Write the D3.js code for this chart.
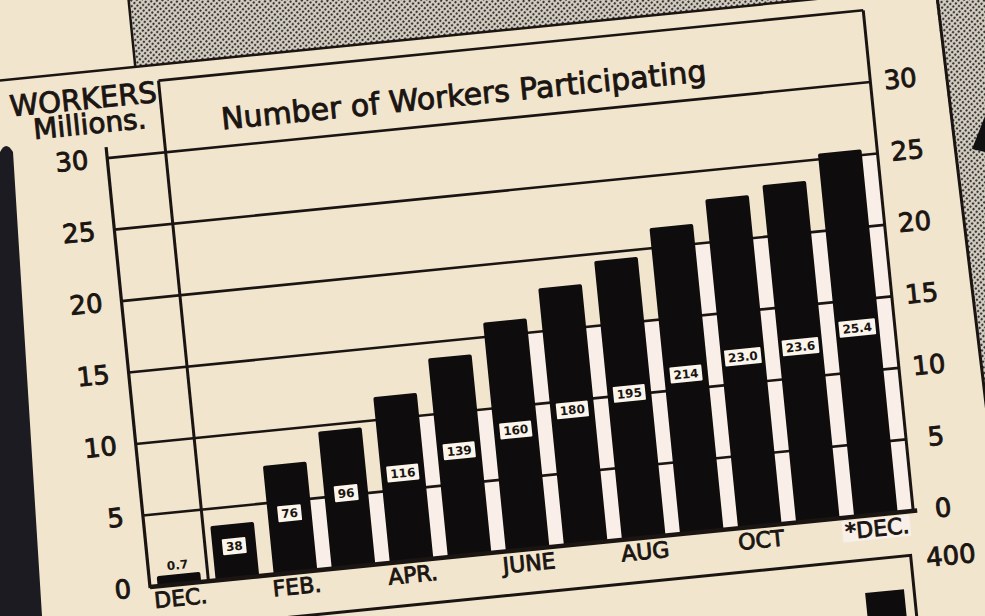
<!DOCTYPE html>
<html>
<head>
<meta charset="utf-8">
<script src="https://cdn.jsdelivr.net/npm/d3@7"></script>
<style>
  body { margin: 0; background: #f2e5cd; }
  svg { display: block; }
  text { font-family: "DejaVu Sans", sans-serif; fill: #1a1512; }
  .big { stroke: #1a1512; stroke-width: 0.9px; }
</style>
</head>
<body>
<div id="chart"></div>
<script>
// months along the bottom (Dec to Dec)
var months = ["DEC", "JAN", "FEB", "MAR", "APR", "MAY", "JUNE", "JULY", "AUG", "SEPT", "OCT", "NOV", "*DEC"];
// workers participating, millions
var workers = [0.7, 3.8, 7.6, 9.6, 11.6, 13.9, 16.0, 18.0, 19.5, 21.4, 23.0, 23.6, 25.4];
// labels as they are printed on the bars
var barLabels = ["0.7", "38", "76", "96", "116", "139", "160", "180", "195", "214", "23.0", "23.6", "25.4"];
// only every other month gets a label
var tickMonths = ["DEC", "FEB", "APR", "JUNE", "AUG", "OCT", "*DEC"];
var tickLabels = ["DEC.", "FEB.", "APR.", "JUNE", "AUG", "OCT", "*DEC."];
var yTicks = [0, 5, 10, 15, 20, 25, 30];

var width = 985, height = 616;
var ink = "#1a1512";

var svg = d3.select("#chart").append("svg")
    .attr("width", width)
    .attr("height", height);

// halftone dots for the page behind
var defs = svg.append("defs");
var pat = defs.append("pattern")
    .attr("id", "dots")
    .attr("width", 4).attr("height", 4)
    .attr("patternUnits", "userSpaceOnUse")
    .attr("patternTransform", "rotate(45)");
pat.append("rect").attr("width", 4).attr("height", 4).attr("fill", "#d6d0c4");
pat.append("circle").attr("cx", 2).attr("cy", 2).attr("r", 1.2).attr("fill", "#34322f");

svg.append("rect").attr("width", width).attr("height", height).attr("fill", "#f2e5cd");

// the clipping is photographed a little tilted
var g = svg.append("g")
    .attr("transform", "translate(150,587) rotate(-5.7)");

// page around the clipping
g.append("path")
    .attr("d", "M37,-800 L37,-519 L840,-519 L852,0 L866,200 L1200,200 L1200,-800 Z")
    .attr("fill", "url(#dots)");
g.append("line").attr("x1", -220).attr("x2", 841).attr("y1", -519).attr("y2", -519)
    .attr("stroke", ink).attr("stroke-width", 2.5);
g.append("line").attr("x1", 37).attr("x2", 37).attr("y1", -800).attr("y2", -519)
    .attr("stroke", ink).attr("stroke-width", 2.5);
g.append("path").attr("d", "M836,-800 L852,0 L866,200")
    .attr("fill", "none").attr("stroke", ink).attr("stroke-width", 3);

var W = 767, H = 431;
var x = d3.scaleBand().domain(months).range([0, W])
    .paddingInner(0.25).paddingOuter(0.2).align(0.33);
var y = d3.scaleLinear().domain([0, 30]).range([0, -H]);
var bw = x.bandwidth(), step = x.step();
var sepX = x("JAN") - (step - bw) / 2;

// pale strips between the bars, up to the last full grid row
g.selectAll(".strip")
    .data(months)
    .enter().append("rect")
    .attr("class", "strip")
    .attr("x", function (d) { return x(d) + bw; })
    .attr("width", function (d) { return Math.min(step - bw, W - x(d) - bw); })
    .attr("y", function (d, i) { return y(Math.floor(workers[i] / 5) * 5); })
    .attr("height", function (d, i) { return -y(Math.floor(workers[i] / 5) * 5); })
    .attr("fill", "#f9efe8");

// grid
g.selectAll(".grid")
    .data(yTicks.slice(1))
    .enter().append("line")
    .attr("class", "grid")
    .attr("x1", 0).attr("x2", W)
    .attr("y1", function (d) { return y(d); })
    .attr("y2", function (d) { return y(d); })
    .attr("stroke", ink).attr("stroke-width", 2.6);

// frame: title box, year divider, axes
g.append("line").attr("x1", sepX).attr("x2", W).attr("y1", -503).attr("y2", -503)
    .attr("stroke", ink).attr("stroke-width", 2.6);
g.append("line").attr("x1", sepX).attr("x2", sepX).attr("y1", -503).attr("y2", 0)
    .attr("stroke", ink).attr("stroke-width", 3);
g.append("line").attr("x1", W).attr("x2", W).attr("y1", -503).attr("y2", 0)
    .attr("stroke", ink).attr("stroke-width", 3);
g.append("line").attr("x1", 0).attr("x2", 0).attr("y1", -442).attr("y2", 1)
    .attr("stroke", ink).attr("stroke-width", 3.2);

// bars
g.selectAll(".bar")
    .data(months)
    .enter().append("rect")
    .attr("class", "bar")
    .attr("x", function (d) { return x(d); })
    .attr("width", bw)
    .attr("y", function (d, i) { return y(workers[i]); })
    .attr("height", function (d, i) { return -y(workers[i]); })
    .attr("rx", 2)
    .attr("fill", "#0e0c0d");

g.append("line").attr("x1", 0).attr("x2", W + 4).attr("y1", 0).attr("y2", 0)
    .attr("stroke", ink).attr("stroke-width", 4.5);

// value labels in little white boxes
months.forEach(function (m, i) {
    var cx = x(m) + bw / 2;
    var lab = g.append("g");
    if (i === 0) {
        lab.append("text")
            .attr("x", cx).attr("y", y(workers[i]) - 9)
            .attr("dy", "0.35em")
            .attr("text-anchor", "middle")
            .style("font-size", "12px").style("font-weight", "bold")
            .text(barLabels[i]);
        return;
    }
    var cy = y(workers[i] / 2) - 5;
    var t = lab.append("text")
        .attr("x", cx).attr("y", cy)
        .attr("dy", "0.36em")
        .attr("text-anchor", "middle")
        .style("font-size", "12px").style("font-weight", "bold")
        .text(barLabels[i]);
    var bb = t.node().getBBox();
    lab.insert("rect", "text")
        .attr("x", bb.x - 3.5).attr("y", cy - 8)
        .attr("width", bb.width + 7).attr("height", 16)
        .attr("rx", 1)
        .attr("fill", "#fbf5ec");
});

// left axis
var yAxis = g.append("g")
    .call(d3.axisLeft(y).tickValues(yTicks).tickSize(0).tickPadding(19));
yAxis.select(".domain").remove();
yAxis.selectAll("text").attr("class", "big")
    .style("font-size", "26px").style("font-family", "DejaVu Sans").attr("fill", ink);

// right axis, same scale
var yAxisR = g.append("g")
    .attr("transform", "translate(" + (W + 30) + ",0)")
    .call(d3.axisRight(y).tickValues(yTicks).tickSize(0).tickPadding(0));
yAxisR.select(".domain").remove();
yAxisR.selectAll("text").attr("class", "big")
    .attr("text-anchor", "middle")
    .style("font-size", "26px").style("font-family", "DejaVu Sans").attr("fill", ink);

// months
var xAxis = g.append("g")
    .call(d3.axisBottom(x).tickValues(tickMonths).tickSize(0).tickPadding(6)
        .tickFormat(function (d) { return tickLabels[tickMonths.indexOf(d)]; }));
xAxis.select(".domain").remove();
xAxis.selectAll("text").attr("class", "big")
    .style("font-size", "22px").style("font-family", "DejaVu Sans").attr("fill", ink);
var lastTick = xAxis.selectAll(".tick").filter(function (d) { return d === "*DEC"; });
var lb = lastTick.select("text").node().getBBox();
lastTick.insert("rect", "text")
    .attr("x", lb.x - 3).attr("y", lb.y + 2)
    .attr("width", lb.width + 4).attr("height", lb.height - 4)
    .attr("fill", "#f8efe8");

// headings
g.append("text").attr("class", "big")
    .attr("x", -18).attr("y", -482)
    .attr("text-anchor", "middle")
    .style("font-size", "29px")
    .text("WORKERS");
g.append("text").attr("class", "big")
    .attr("x", -14).attr("y", -457)
    .attr("text-anchor", "middle")
    .style("font-size", "28px")
    .text("Millions.");
g.append("text").attr("class", "big")
    .attr("x", 361).attr("y", -448)
    .attr("text-anchor", "middle")
    .style("font-size", "30px")
    .text("Number of Workers Participating");

// top of the next chart on the page
g.append("path").attr("d", "M-220,44 L760,44 L760,220")
    .attr("fill", "none").attr("stroke", ink).attr("stroke-width", 3);
g.append("rect").attr("x", 711).attr("y", 77).attr("width", 39).attr("height", 140)
    .attr("fill", "#0e0c0d");
g.append("text").attr("class", "big")
    .attr("x", W + 33).attr("y", 48).attr("dy", "0.35em")
    .attr("text-anchor", "middle")
    .style("font-size", "26px")
    .text("400");

// dark edge on the left and a scrap on the right
svg.append("path")
    .attr("d", "M0,152 Q6,140 13,152 L42,616 L0,616 Z")
    .attr("fill", "#1c1b21");
svg.append("path")
    .attr("d", "M972,149 L985,116 L985,152 Z")
    .attr("fill", "#111");
</script>
</body>
</html>
